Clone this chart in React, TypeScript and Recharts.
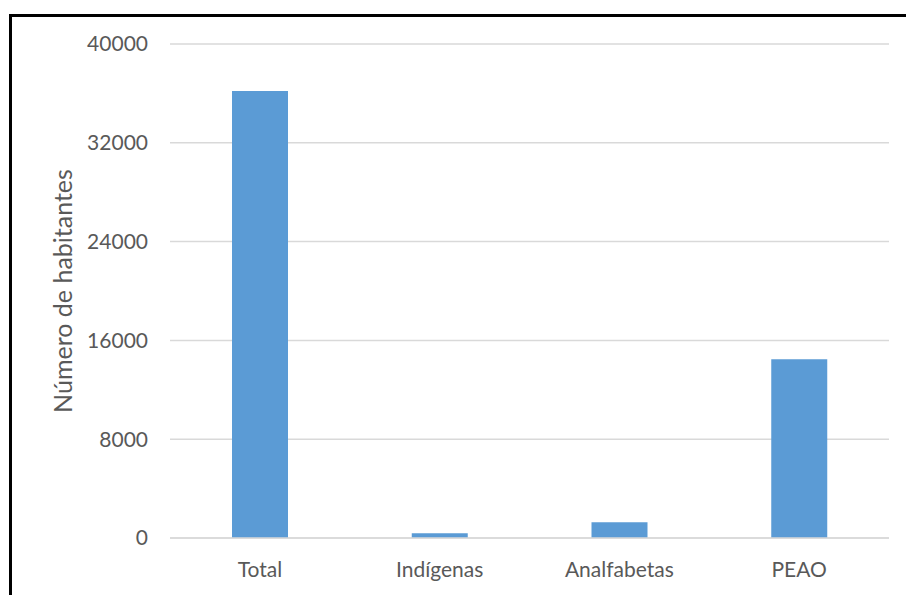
import React from 'react';
import { BarChart, Bar, XAxis, YAxis, CartesianGrid } from 'recharts';

const categories = ['Total', 'Indígenas', 'Analfabetas', 'PEAO'];
const habitantes = [36200, 380, 1270, 14470];
const yTicks = [0, 8000, 16000, 24000, 32000, 40000];
const yLabel = 'Número de habitantes';

const data = categories.map((name, i) => ({ name, value: habitantes[i] }));

const FONT = 'Lato, "Open Sans", sans-serif';
const TEXT = '#595959';

const YLabel = (props: any) => {
  const vb = props.viewBox || {};
  const cx = vb.x - 8;
  const cy = vb.y + vb.height / 2;
  return (
    <text
      x={cx}
      y={cy}
      transform={`rotate(-90, ${cx}, ${cy})`}
      textAnchor="middle"
      dominantBaseline="central"
      fill={TEXT}
      fontSize={25}
      fontFamily={FONT}
    >
      {yLabel}
    </text>
  );
};

export default function App() {
  return (
    <div style={{ position: 'absolute', left: 0, top: 0, width: 906, height: 595, background: '#fff', overflow: 'hidden' }}>
      <div
        style={{
          position: 'absolute',
          left: 9,
          top: 14,
          width: 906,
          height: 600,
          borderLeft: '3px solid #000',
          borderTop: '3px solid #000',
          boxSizing: 'border-box',
        }}
      />
      <div style={{ position: 'absolute', left: 0, top: 0 }}>
        <BarChart
          width={906}
          height={595}
          data={data}
          margin={{ top: 44, right: 17, bottom: 27, left: 70 }}
        >
          <CartesianGrid vertical={false} stroke="#d9d9d9" strokeWidth={1.5} />
          <XAxis
            dataKey="name"
            height={30}
            axisLine={{ stroke: '#d9d9d9', strokeWidth: 1.5 }}
            tickLine={false}
            tickSize={6}
            tickMargin={18}
            tick={{ fill: TEXT, fontSize: 21, fontFamily: FONT }}
            interval={0}
          />
          <YAxis
            width={100}
            domain={[0, 40000]}
            ticks={yTicks}
            axisLine={false}
            tickLine={false}
            tickSize={6}
            tickMargin={16}
            tick={{ fill: TEXT, fontSize: 21, fontFamily: FONT }}
            label={<YLabel />}
          />
          <Bar dataKey="value" fill="#5b9bd5" barSize={56} isAnimationActive={false} />
        </BarChart>
      </div>
    </div>
  );
}
